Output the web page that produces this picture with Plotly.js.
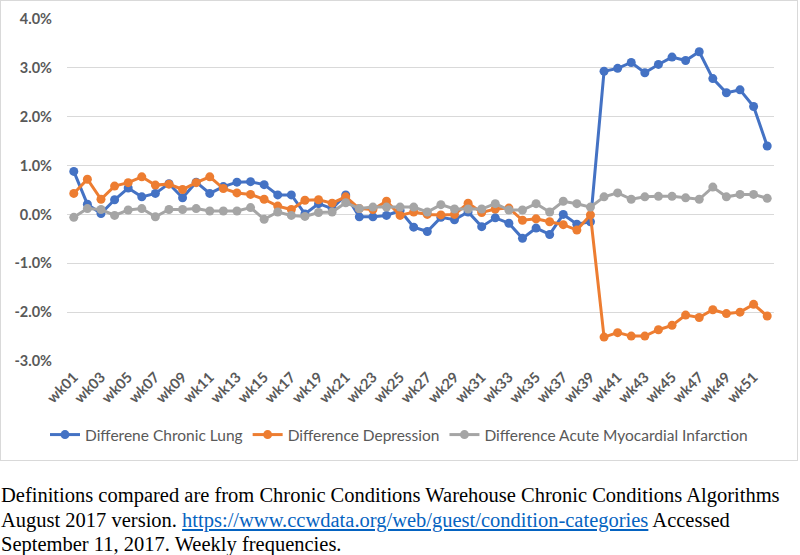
<!DOCTYPE html>
<html>
<head>
<meta charset="utf-8">
<script src="https://cdn.plot.ly/plotly-3.0.1.min.js"></script>
<style>
  html, body { margin: 0; padding: 0; background: #ffffff; width: 800px; height: 555px; overflow: hidden; }
  #frame { position: absolute; left: 0; top: 0; width: 796px; height: 459px; border: 1px solid #d9d9d9; }
  #chart { width: 796px; height: 459px; }
  #note { position: absolute; left: 1px; top: 483px; width: 800px; font-family: "Liberation Serif", "Times New Roman", serif; font-size: 20.5px; line-height: 24.5px; color: #000; white-space: nowrap; }
  #note a { color: #0563C1; text-decoration: underline; }
</style>
</head>
<body>
<div id="frame"><div id="chart"></div></div>
<div id="note">Definitions compared are from Chronic Conditions Warehouse Chronic Conditions Algorithms<br>August 2017 version. <a href="https://www.ccwdata.org/web/guest/condition-categories">https://www.ccwdata.org/web/guest/condition-categories</a> Accessed<br>September 11, 2017. Weekly frequencies.</div>
<script>
const weeks = ["wk01","wk02","wk03","wk04","wk05","wk06","wk07","wk08","wk09","wk10",
  "wk11","wk12","wk13","wk14","wk15","wk16","wk17","wk18","wk19","wk20",
  "wk21","wk22","wk23","wk24","wk25","wk26","wk27","wk28","wk29","wk30",
  "wk31","wk32","wk33","wk34","wk35","wk36","wk37","wk38","wk39","wk40",
  "wk41","wk42","wk43","wk44","wk45","wk46","wk47","wk48","wk49","wk50",
  "wk51","wk52"];
const tickWeeks = ["wk01","wk03","wk05","wk07","wk09","wk11","wk13","wk15","wk17","wk19",
  "wk21","wk23","wk25","wk27","wk29","wk31","wk33","wk35","wk37","wk39",
  "wk41","wk43","wk45","wk47","wk49","wk51"];

// values in percent
const chronicLung = [0.88,0.21,0.02,0.30,0.54,0.36,0.43,0.63,0.34,0.66,
  0.43,0.57,0.66,0.67,0.61,0.40,0.40,0.01,0.22,0.12,
  0.40,-0.05,-0.05,-0.02,0.08,-0.26,-0.35,-0.06,-0.11,0.05,
  -0.25,-0.07,-0.18,-0.49,-0.28,-0.41,0.00,-0.20,-0.15,
  2.93,2.99,3.11,2.90,3.07,3.22,3.15,3.33,2.78,2.49,2.55,2.21,1.40];
const depression = [0.43,0.72,0.31,0.58,0.65,0.77,0.60,0.62,0.51,0.65,
  0.77,0.53,0.44,0.41,0.31,0.17,0.10,0.29,0.30,0.23,
  0.36,0.12,0.10,0.27,-0.02,0.05,0.00,-0.01,0.00,0.23,
  0.04,0.11,0.13,-0.12,-0.09,-0.15,-0.21,-0.32,-0.01,
  -2.51,-2.42,-2.49,-2.49,-2.36,-2.27,-2.06,-2.11,-1.95,-2.03,-2.00,-1.84,-2.08];
const ami = [-0.06,0.12,0.10,-0.02,0.09,0.12,-0.05,0.10,0.10,0.12,
  0.07,0.07,0.07,0.14,-0.10,0.05,-0.02,-0.04,0.04,0.05,
  0.24,0.12,0.15,0.15,0.15,0.15,0.05,0.20,0.11,0.11,
  0.11,0.22,0.09,0.09,0.22,0.05,0.27,0.22,0.15,
  0.36,0.44,0.31,0.36,0.37,0.37,0.34,0.31,0.56,0.36,0.41,0.41,0.33];

const seriesNames = ["Differene Chronic Lung","Difference Depression","Difference Acute Myocardial Infarction"];
const seriesColors = ["#4472C4","#ED7D31","#A5A5A5"];
const seriesValues = [chronicLung, depression, ami];

const traces = seriesValues.map((vals, i) => ({
  type: "scatter",
  mode: "lines+markers",
  x: weeks,
  y: vals,
  name: seriesNames[i],
  line: { color: seriesColors[i], width: 3 },
  marker: { color: seriesColors[i], size: 9 },
  hoverinfo: "skip"
}));

const tickFont = { family: "Lato, 'Open Sans', sans-serif", size: 14.5, color: "#595959", weight: 700 };

const layout = {
  width: 796, height: 459,
  margin: { l: 66, r: 23, t: 18, b: 99.3 },
  paper_bgcolor: "#ffffff",
  plot_bgcolor: "#ffffff",
  showlegend: true,
  legend: {
    orientation: "h",
    xref: "container", yref: "container",
    x: 0.5, xanchor: "center",
    y: 1 - 434/459, yanchor: "middle",
    font: { family: "Lato, 'Open Sans', sans-serif", size: 15.5, color: "#595959" },
    itemwidth: 30,
    traceorder: "normal"
  },
  xaxis: {
    type: "category",
    categoryarray: weeks,
    range: [-0.5, 51.5],
    tickmode: "array",
    tickvals: tickWeeks,
    ticktext: tickWeeks,
    tickangle: -45,
    tickfont: tickFont,
    showgrid: false,
    zeroline: false,
    showline: false,
    ticks: "",
    ticklabelstandoff: 4,
    fixedrange: true
  },
  yaxis: {
    range: [-3, 4],
    tickmode: "array",
    tickvals: [-3,-2,-1,0,1,2,3,4],
    ticktext: ["-3.0%","-2.0%","-1.0%","0.0%","1.0%","2.0%","3.0%","4.0%"],
    tickfont: tickFont,
    showgrid: true,
    gridcolor: "#d9d9d9",
    gridwidth: 1,
    zeroline: false,
    showline: false,
    ticks: "",
    ticklabelstandoff: 14,
    fixedrange: true
  }
};

Plotly.newPlot("chart", traces, layout, { displayModeBar: false, staticPlot: true });
</script>
</body>
</html>
